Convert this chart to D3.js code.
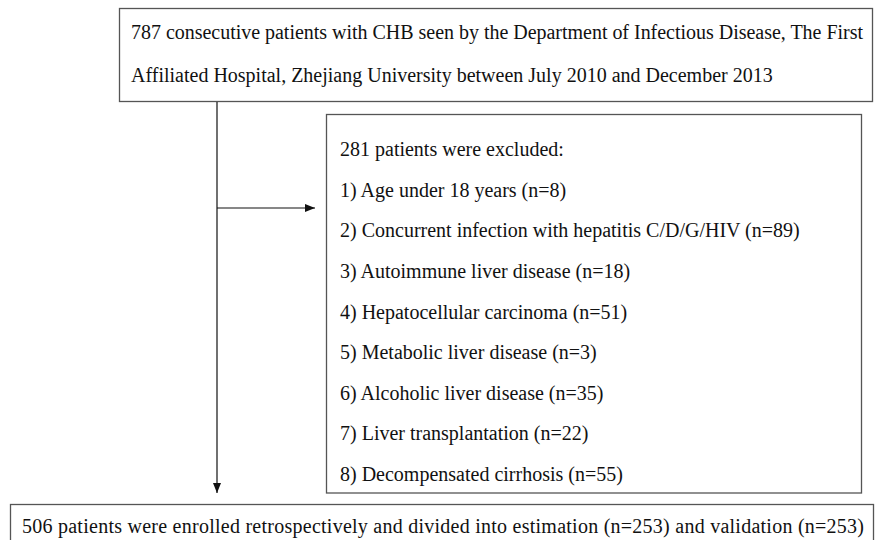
<!DOCTYPE html>
<html>
<head>
<meta charset="utf-8">
<script src="https://cdn.jsdelivr.net/npm/d3@7"></script>
<style>
  html, body { margin: 0; padding: 0; background: #fff; }
  svg { display: block; }
  text { font-family: "Liberation Serif", "Times New Roman", serif; fill: #111; }
</style>
</head>
<body>
<svg id="chart" width="875" height="540"></svg>
<script>
// ---- data ----
const topLines = [
  "787 consecutive patients with CHB seen by the Department of Infectious Disease, The First",
  "Affiliated Hospital, Zhejiang University between July 2010 and December 2013"
];
const excludedTotal = 281;
const exclusionReasons = [
  "Age under 18 years",
  "Concurrent infection with hepatitis C/D/G/HIV",
  "Autoimmune liver disease",
  "Hepatocellular carcinoma",
  "Metabolic liver disease",
  "Alcoholic liver disease",
  "Liver transplantation",
  "Decompensated cirrhosis"
];
const exclusionCounts = [8, 89, 18, 51, 3, 35, 22, 55];
const enrolledLine = "506 patients were enrolled retrospectively and divided into estimation (n=253) and validation (n=253)";

// ---- drawing ----
const svg = d3.select("#chart");
const fs = 20;
const boxStroke = "#555";

const defs = svg.append("defs");
defs.append("marker")
  .attr("id", "arrow")
  .attr("viewBox", "0 0 10 10")
  .attr("refX", 10).attr("refY", 5)
  .attr("markerWidth", 10).attr("markerHeight", 10)
  .attr("markerUnits", "userSpaceOnUse")
  .attr("orient", "auto")
  .append("path").attr("d", "M0,1 L10,5 L0,9 Z").attr("fill", "#111");

// top box
svg.append("rect").attr("x", 119.5).attr("y", 8.5).attr("width", 753).attr("height", 93)
  .attr("fill", "none").attr("stroke", boxStroke).attr("stroke-width", 1.3);
const topY = d3.scalePoint().domain(d3.range(topLines.length)).range([39, 81.5]);
svg.selectAll("text.top").data(topLines).join("text").attr("class", "top")
  .attr("x", 131).attr("y", (d, i) => topY(i)).attr("font-size", fs)
  .attr("textLength", (d, i) => i === 0 ? 732 : null)
  .attr("lengthAdjust", "spacing").text(d => d);

// exclusion box
const exLines = [`${excludedTotal} patients were excluded:`]
  .concat(exclusionReasons.map((r, i) => `${i + 1}) ${r} (n=${exclusionCounts[i]})`));
svg.append("rect").attr("x", 326.5).attr("y", 114.5).attr("width", 535).attr("height", 378.5)
  .attr("fill", "none").attr("stroke", boxStroke).attr("stroke-width", 1.3);
const exY = d3.scalePoint().domain(d3.range(exLines.length)).range([156, 481]);
svg.selectAll("text.ex").data(exLines).join("text").attr("class", "ex")
  .attr("x", 340).attr("y", (d, i) => exY(i)).attr("font-size", fs).text(d => d);

// bottom box
svg.append("rect").attr("x", 10.5).attr("y", 504.5).attr("width", 863).attr("height", 60)
  .attr("fill", "none").attr("stroke", boxStroke).attr("stroke-width", 1.3);
svg.append("text").attr("x", 22).attr("y", 533).attr("font-size", fs)
  .attr("textLength", 842).attr("lengthAdjust", "spacing").text(enrolledLine);

// connectors
svg.append("line").attr("x1", 217).attr("y1", 102).attr("x2", 217).attr("y2", 493)
  .attr("stroke", "#111").attr("stroke-width", 1.2).attr("marker-end", "url(#arrow)");
svg.append("line").attr("x1", 217).attr("y1", 208).attr("x2", 315).attr("y2", 208)
  .attr("stroke", "#111").attr("stroke-width", 1.2).attr("marker-end", "url(#arrow)");
</script>
</body>
</html>
